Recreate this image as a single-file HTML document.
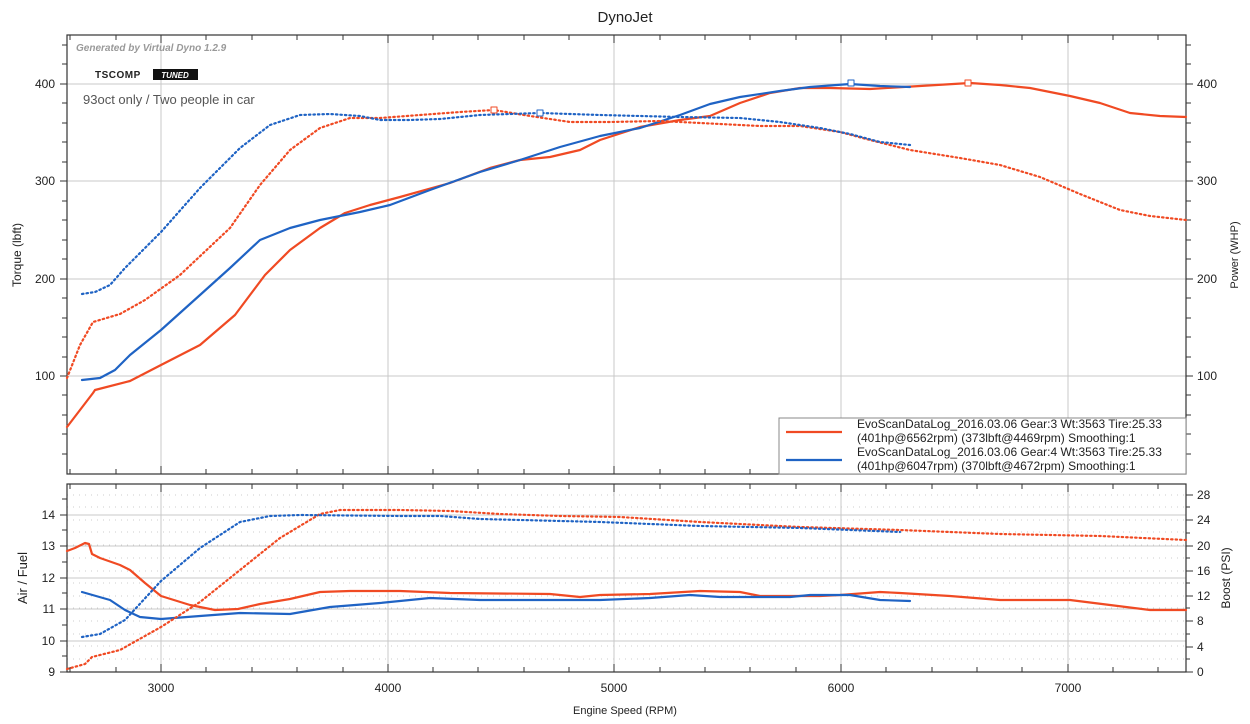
<!DOCTYPE html>
<html><head><meta charset="utf-8"><style>
body{margin:0;background:#fff;}
svg{display:block;font-family:"Liberation Sans",Arial,sans-serif;}
</style></head><body>
<svg width="1250" height="724" viewBox="0 0 1250 724" xmlns="http://www.w3.org/2000/svg">
<rect width="1250" height="724" fill="#fff"/>
<text x="625" y="22" font-size="15" text-anchor="middle" fill="#222">DynoJet</text>
<g stroke="#c8c8c8" stroke-width="1">
<path d="M67 84H1186M67 181H1186M67 279H1186M67 376H1186"/>
<path d="M161 35V474M388 35V474M614 35V474M841 35V474M1068 35V474"/>
<path d="M67 515H1186M67 546H1186M67 578H1186M67 609H1186M67 641H1186"/>
<path d="M161 484V672M388 484V672M614 484V672M841 484V672M1068 484V672"/>
</g>
<g stroke="#ccc" stroke-width="1" stroke-dasharray="1 5">
<path d="M67 495H1186M67 507H1186M67 520H1186M67 532H1186M67 545H1186M67 558H1186M67 571H1186M67 583H1186M67 596H1186M67 608H1186M67 621H1186M67 634H1186M67 646H1186M67 659H1186"/>
</g>
<g fill="none" stroke="#333" stroke-width="1.2">
<rect x="67" y="35" width="1119" height="439"/>
<rect x="67" y="484" width="1119" height="188"/>
</g>
<g stroke="#333" stroke-width="1">
<path d="M70 474v-5M116 474v-5M161 474v-8M206 474v-5M252 474v-5M297 474v-5M343 474v-5M388 474v-8M433 474v-5M478 474v-5M524 474v-5M569 474v-5M614 474v-8M660 474v-5M705 474v-5M750 474v-5M796 474v-5M841 474v-8M886 474v-5M932 474v-5M977 474v-5M1022 474v-5M1068 474v-8M1113 474v-5M1158 474v-5"/>
<path d="M70 35v5M116 35v5M161 35v8M206 35v5M252 35v5M297 35v5M343 35v5M388 35v8M433 35v5M478 35v5M524 35v5M569 35v5M614 35v8M660 35v5M705 35v5M750 35v5M796 35v5M841 35v8M886 35v5M932 35v5M977 35v5M1022 35v5M1068 35v8M1113 35v5M1158 35v5"/>
<path d="M70 672v-5M116 672v-5M161 672v-8M206 672v-5M252 672v-5M297 672v-5M343 672v-5M388 672v-8M433 672v-5M478 672v-5M524 672v-5M569 672v-5M614 672v-8M660 672v-5M705 672v-5M750 672v-5M796 672v-5M841 672v-8M886 672v-5M932 672v-5M977 672v-5M1022 672v-5M1068 672v-8M1113 672v-5M1158 672v-5"/>
<path d="M70 484v5M116 484v5M161 484v8M206 484v5M252 484v5M297 484v5M343 484v5M388 484v8M433 484v5M478 484v5M524 484v5M569 484v5M614 484v8M660 484v5M705 484v5M750 484v5M796 484v5M841 484v8M886 484v5M932 484v5M977 484v5M1022 484v5M1068 484v8M1113 484v5M1158 484v5"/>
<path d="M62 45h5M62 64h5M60 84h7M62 103h5M62 123h5M62 142h5M62 162h5M60 181h7M62 201h5M62 220h5M62 240h5M62 259h5M60 279h7M62 298h5M62 318h5M62 337h5M62 357h5M60 376h7M62 395h5M62 415h5M62 434h5M62 454h5"/>
<path d="M1186 45h5M1186 64h5M1186 84h7M1186 103h5M1186 123h5M1186 142h5M1186 162h5M1186 181h7M1186 201h5M1186 220h5M1186 240h5M1186 259h5M1186 279h7M1186 298h5M1186 318h5M1186 337h5M1186 357h5M1186 376h7M1186 395h5M1186 415h5M1186 434h5M1186 454h5"/>
<path d="M60 515h7M60 546h7M60 578h7M60 609h7M60 641h7M60 672h7M62 499h5M62 530h5M62 562h5M62 593h5M62 625h5M62 656h5"/>
<path d="M1186 672h7M1186 647h7M1186 621h7M1186 596h7M1186 571h7M1186 546h7M1186 520h7M1186 495h7M1186 659h4M1186 634h4M1186 608h4M1186 583h4M1186 558h4M1186 533h4M1186 507h4"/>
</g>
<g font-size="12" fill="#222">
<g text-anchor="end"><text x="55" y="88">400</text><text x="55" y="185">300</text><text x="55" y="283">200</text><text x="55" y="380">100</text>
<text x="55" y="519">14</text><text x="55" y="550">13</text><text x="55" y="582">12</text><text x="55" y="613">11</text><text x="55" y="645">10</text><text x="55" y="676">9</text></g>
<g text-anchor="start"><text x="1197" y="88">400</text><text x="1197" y="185">300</text><text x="1197" y="283">200</text><text x="1197" y="380">100</text>
<text x="1197" y="499">28</text><text x="1197" y="524">24</text><text x="1197" y="550">20</text><text x="1197" y="575">16</text><text x="1197" y="600">12</text><text x="1197" y="651">4</text><text x="1197" y="625">8</text><text x="1197" y="676">0</text></g>
<g text-anchor="middle"><text x="161" y="692">3000</text><text x="388" y="692">4000</text><text x="614" y="692">5000</text><text x="841" y="692">6000</text><text x="1068" y="692">7000</text></g>
</g>
<text x="625" y="714" font-size="11" text-anchor="middle" fill="#222">Engine Speed (RPM)</text>
<text transform="translate(21,255) rotate(-90)" font-size="12" text-anchor="middle" fill="#222">Torque (lbft)</text>
<text transform="translate(1238,255) rotate(-90)" font-size="11" text-anchor="middle" fill="#222">Power (WHP)</text>
<text transform="translate(27,578) rotate(-90)" font-size="13" text-anchor="middle" fill="#222">Air / Fuel</text>
<text transform="translate(1230,578) rotate(-90)" font-size="12" text-anchor="middle" fill="#222">Boost (PSI)</text>
<text x="76" y="51" font-size="10" font-style="italic" font-weight="bold" fill="#999">Generated by Virtual Dyno 1.2.9</text>
<text x="95" y="78" font-size="10" font-weight="bold" fill="#222" letter-spacing="0.5">TSCOMP</text>
<rect x="153" y="69" width="45" height="11" fill="#111"/>
<text x="175" y="78" font-size="8" font-style="italic" font-weight="bold" fill="#fff" text-anchor="middle">TUNED</text>
<text x="83" y="104" font-size="13" fill="#555">93oct only / Two people in car</text>
<g fill="none" stroke-linejoin="round" stroke-linecap="round">
<polyline stroke="#f04a23" stroke-width="2.2" points="67,427 80,410 93,393 95,390 130,381 161,365 200,345 235,315 265,275 290,250 320,228 345,213 370,205 400,197 450,183 490,168 520,160 550,157 580,150 600,140 640,127 680,120 710,116 740,103 770,93 800,88 830,88 870,89 920,86 970,83 1000,85 1030,88 1070,96 1100,103 1130,113 1160,116 1186,117"/>
<polyline stroke="#1f63c4" stroke-width="2.2" points="82,380 100,378 115,370 130,355 161,330 200,295 230,268 260,240 290,228 320,220 360,212 390,205 430,190 480,172 520,160 560,147 600,136 640,128 680,115 710,104 740,97 780,91 810,87 850,84 880,86 910,87"/>
<polyline stroke="#f04a23" stroke-width="2.2" stroke-dasharray="1.5 3" points="67,378 80,345 93,322 120,314 145,300 180,275 230,228 260,185 290,150 320,128 350,118 380,118 420,115 460,112 494,110 530,116 570,122 610,122 660,121 720,124 760,126 800,126 840,132 870,140 910,150 960,158 1000,165 1040,177 1080,194 1120,210 1150,216 1186,220"/>
<polyline stroke="#1f63c4" stroke-width="2.2" stroke-dasharray="1.5 3" points="82,294 95,292 110,285 125,268 161,232 200,188 240,148 270,125 300,115 330,114 360,116 380,120 410,120 440,119 480,115 540,113 600,115 680,117 740,118 780,122 820,128 850,134 880,142 910,145"/>
<polyline stroke="#f04a23" stroke-width="2.2" points="67,551 75,548 85,543 89,544 92,554 100,558 120,565 130,570 145,583 161,596 190,605 215,610 238,609 260,604 290,599 320,592 350,591 400,591 450,593 550,594 580,597 600,595 650,594 700,591 740,592 760,596 820,596 840,595 880,592 900,593 950,596 1000,600 1070,600 1110,605 1150,610 1186,610"/>
<polyline stroke="#1f63c4" stroke-width="2.2" points="82,592 110,600 125,610 140,617 161,619 200,616 240,613 290,614 330,607 380,603 430,598 480,600 600,600 650,598 690,595 720,597 790,597 810,595 850,595 880,600 910,601"/>
<polyline stroke="#f04a23" stroke-width="2.2" stroke-dasharray="1.5 3" points="67,669 85,664 92,657 120,650 161,627 200,602 240,570 280,538 320,514 340,510 400,510 450,511 500,514 560,516 620,517 700,522 800,527 900,530 1000,534 1100,536 1186,540"/>
<polyline stroke="#1f63c4" stroke-width="2.2" stroke-dasharray="1.5 3" points="82,637 100,634 125,620 161,581 200,548 240,522 270,516 300,515 400,516 440,516 480,519 600,522 700,526 800,528 900,532"/>
<rect x="491" y="107" width="6" height="6" stroke="#f04a23" fill="#fff" stroke-width="1"/>
<rect x="965" y="80" width="6" height="6" stroke="#f04a23" fill="#fff" stroke-width="1"/>
<rect x="537" y="110" width="6" height="6" stroke="#1f63c4" fill="#fff" stroke-width="1"/>
<rect x="848" y="80" width="6" height="6" stroke="#1f63c4" fill="#fff" stroke-width="1"/>
</g>
<rect x="779" y="418" width="407" height="56" fill="#fff" stroke="#888" stroke-width="1"/>
<line x1="786" y1="432" x2="842" y2="432" stroke="#f04a23" stroke-width="2.2"/>
<line x1="786" y1="460" x2="842" y2="460" stroke="#1f63c4" stroke-width="2.2"/>
<g font-size="12" fill="#222">
<text x="857" y="428">EvoScanDataLog_2016.03.06 Gear:3 Wt:3563 Tire:25.33</text>
<text x="857" y="442">(401hp@6562rpm) (373lbft@4469rpm) Smoothing:1</text>
<text x="857" y="456">EvoScanDataLog_2016.03.06 Gear:4 Wt:3563 Tire:25.33</text>
<text x="857" y="470">(401hp@6047rpm) (370lbft@4672rpm) Smoothing:1</text>
</g>
</svg>
</body></html>
